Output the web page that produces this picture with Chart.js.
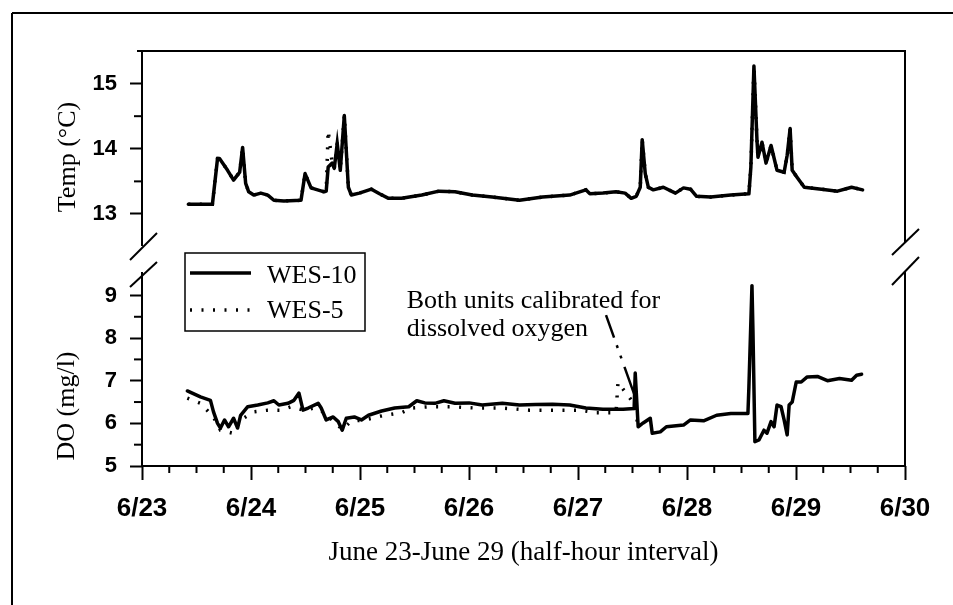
<!DOCTYPE html>
<html><head><meta charset="utf-8">
<script src="https://cdn.jsdelivr.net/npm/chart.js@4/dist/chart.umd.min.js"></script>
<style>
html,body{margin:0;padding:0;background:#fff;}
#wrap{position:relative;width:953px;height:605px;overflow:hidden;background:#fff;}
canvas{position:absolute;left:0;top:0;}
</style></head><body>
<div id="wrap"><canvas id="cTop" width="953" height="605"></canvas><canvas id="cBot" width="953" height="605"></canvas></div>
<script>
// ---------- data (x = day of June, fractional) ----------
const dayTicks = [23, 24, 25, 26, 27, 28, 29, 30];
const dayTickLabels = ['6/23', '6/24', '6/25', '6/26', '6/27', '6/28', '6/29', '6/30'];
const dayMinorTicks = [23.25,23.5,23.75,24.25,24.5,24.75,25.25,25.5,25.75,26.25,26.5,26.75,27.25,27.5,27.75,28.25,28.5,28.75,29.25,29.5,29.75];
const tempTicks = [13, 14, 15];
const tempMinorTicks = [13.5, 14.5];
const doTicks = [5, 6, 7, 8, 9];
const doMinorTicks = [5.5, 6.5, 7.5, 8.5];
const seriesNames = ['WES-10', 'WES-5'];
const xTitle = 'June 23-June 29 (half-hour interval)';
const tempTitle = 'Temp (\u00B0C)';
const doTitle = 'DO (mg/l)';
const noteLines = ['Both units calibrated for', 'dissolved oxygen'];

const temp10Day = [23.425,23.646,23.693,23.711,23.785,23.840,23.877,23.896,23.923,23.951,23.979,24.025,24.090,24.154,24.210,24.302,24.459,24.496,24.551,24.671,24.690,24.708,24.745,24.764,24.791,24.819,24.856,24.893,24.921,24.994,25.105,25.179,25.262,25.382,25.567,25.724,25.872,26.029,26.213,26.463,26.675,26.924,27.072,27.109,27.229,27.349,27.432,27.488,27.534,27.571,27.589,27.617,27.645,27.691,27.783,27.894,27.968,28.032,28.088,28.217,28.402,28.568,28.586,28.614,28.642,28.651,28.688,28.725,28.771,28.826,28.891,28.919,28.946,28.965,29.011,29.076,29.233,29.381,29.510,29.611];
const temp10 = [13.15,13.15,13.85,13.85,13.67,13.52,13.60,13.64,14.02,13.47,13.34,13.29,13.32,13.29,13.21,13.20,13.21,13.62,13.40,13.34,13.35,13.72,13.78,13.70,14.08,13.67,14.51,13.41,13.29,13.32,13.38,13.31,13.24,13.24,13.29,13.35,13.34,13.29,13.26,13.21,13.26,13.29,13.37,13.31,13.32,13.34,13.32,13.24,13.27,13.41,14.14,13.62,13.41,13.37,13.41,13.32,13.40,13.38,13.27,13.26,13.29,13.31,13.72,15.27,14.13,13.87,14.10,13.78,14.05,13.67,13.64,13.90,14.31,13.67,13.56,13.41,13.38,13.35,13.41,13.37];
const temp5Day = [23.425,23.646,23.693,23.711,23.785,23.840,23.877,23.896,23.923,23.951,23.979,24.025,24.090,24.154,24.210,24.302,24.459,24.496,24.551,24.671,24.690,24.708,24.745,24.764,24.791,24.819,24.856,24.893,24.921,24.994,25.105,25.179,25.262,25.382,25.567,25.724,25.872,26.029,26.213,26.463,26.675,26.924,27.072,27.109,27.229,27.349,27.432,27.488,27.534,27.571,27.589,27.617,27.645,27.691,27.783,27.894,27.968,28.032,28.088,28.217,28.402,28.568,28.586,28.614,28.642,28.651,28.688,28.725,28.771,28.826,28.891,28.919,28.946,28.965,29.011,29.076,29.233,29.381,29.510,29.611];
const temp5 = [13.15,13.15,13.85,13.85,13.67,13.52,13.60,13.64,14.02,13.47,13.34,13.29,13.32,13.29,13.21,13.20,13.21,13.62,13.40,13.34,13.35,14.28,13.78,13.70,14.08,13.67,14.51,13.41,13.29,13.32,13.38,13.31,13.24,13.24,13.29,13.35,13.34,13.29,13.26,13.21,13.26,13.29,13.37,13.31,13.32,13.34,13.32,13.24,13.27,13.41,14.14,13.62,13.41,13.37,13.41,13.32,13.40,13.38,13.27,13.26,13.29,13.31,13.72,15.27,14.13,13.87,14.10,13.78,14.05,13.67,13.64,13.90,14.31,13.67,13.56,13.41,13.38,13.35,13.41,13.37];

const do10Day = [23.416,23.536,23.628,23.656,23.693,23.720,23.757,23.794,23.840,23.877,23.905,23.970,24.062,24.154,24.210,24.256,24.339,24.394,24.440,24.477,24.524,24.616,24.644,24.690,24.754,24.801,24.837,24.874,24.948,25.013,25.078,25.198,25.318,25.447,25.521,25.595,25.687,25.770,25.872,26.001,26.121,26.306,26.463,26.610,26.767,26.924,27.072,27.229,27.414,27.515,27.525,27.552,27.598,27.663,27.681,27.755,27.811,27.968,28.032,28.152,28.272,28.402,28.559,28.568,28.596,28.605,28.623,28.660,28.706,28.734,28.771,28.799,28.826,28.863,28.891,28.919,28.937,28.965,29.002,29.048,29.103,29.196,29.288,29.399,29.510,29.556,29.602];
const do10 = [6.76,6.62,6.54,6.27,6.00,5.89,6.08,5.92,6.12,5.89,6.19,6.39,6.43,6.48,6.53,6.43,6.47,6.54,6.71,6.31,6.36,6.47,6.36,6.08,6.15,6.04,5.84,6.12,6.15,6.08,6.19,6.29,6.36,6.39,6.53,6.48,6.47,6.53,6.47,6.48,6.43,6.47,6.43,6.44,6.45,6.43,6.36,6.33,6.33,6.35,7.18,5.92,6.01,6.12,5.77,5.80,5.92,5.96,6.08,6.06,6.19,6.23,6.23,6.86,9.23,8.18,5.57,5.61,5.84,5.77,6.04,5.92,6.43,6.39,6.08,5.73,6.43,6.50,6.97,6.97,7.09,7.10,7.00,7.05,7.01,7.13,7.15];
const do5Day = [23.416,23.536,23.656,23.720,23.831,23.905,24.025,24.154,24.274,24.367,24.487,24.579,24.644,24.736,24.837,24.920,25.041,25.225,25.382,25.475,25.632,25.844,26.056,26.306,26.555,26.795,27.017,27.164,27.349,27.367,27.441,27.488,27.525,27.552];
const do5 = [6.59,6.47,6.15,5.84,5.77,6.08,6.27,6.31,6.31,6.39,6.31,6.36,6.30,6.10,5.86,6.05,6.08,6.19,6.25,6.36,6.39,6.39,6.36,6.36,6.31,6.31,6.31,6.25,6.25,6.96,6.71,6.55,6.35,5.92];

// annotation anchor (data units of the DO panel)
const noteAt = {x: 25.428, y1: 8.70, y2: 8.05, fromX: 27.257, fromY: 8.54, toX: 27.534, toY: 6.55};

// ---------- helpers ----------
const SERIF = '"Liberation Serif", "Times New Roman", Times, serif';
const SANS = '"Liberation Sans", Arial, Helvetica, sans-serif';
const pts = (xs, ys) => xs.map((x, i) => ({x: x, y: ys[i]}));
function seg(ctx, x1, y1, x2, y2) { ctx.beginPath(); ctx.moveTo(x1, y1); ctx.lineTo(x2, y2); ctx.stroke(); }
const solidStyle = {borderColor: '#000', borderWidth: 3.5, pointRadius: 0, tension: 0, borderJoinStyle: 'round', borderCapStyle: 'round', fill: false};
const dotStyle = {borderColor: '#000', borderWidth: 3.5, pointRadius: 0, tension: 0, borderDash: [2, 9.5], borderCapStyle: 'butt', fill: false};

function yAxis(min, max, ticks) {
  return {
    type: 'linear', min: min, max: max,
    afterFit(s) { s.width = 142; },
    afterBuildTicks(s) { s.ticks = ticks.map(v => ({value: v})); },
    ticks: {color: '#000', font: {family: SANS, weight: 'bold', size: 22}, padding: 13},
    grid: {drawOnChartArea: false, drawTicks: true, tickLength: 12, tickColor: '#000', tickWidth: 2},
    border: {display: false}
  };
}

// ---------- top panel decorations ----------
const topDecor = {
  id: 'topDecor',
  afterDraw(chart) {
    const {ctx, chartArea: a, scales: {y}} = chart;
    ctx.save();
    ctx.strokeStyle = '#000'; ctx.lineWidth = 2;
    // outer frame
    seg(ctx, 12, 13, 953, 13); seg(ctx, 12, 13, 12, 605);
    // panel box (open at bottom)
    seg(ctx, a.left - 5, a.top, a.right + 1, a.top);
    seg(ctx, a.left, a.top, a.left, a.bottom + 4);
    seg(ctx, a.right, a.top, a.right, a.bottom);
    // minor ticks
    tempMinorTicks.forEach(v => { const p = y.getPixelForValue(v); seg(ctx, a.left - 8, p, a.left, p); });
    // axis-break marks
    seg(ctx, a.left - 12, a.bottom + 18, a.left + 15, a.bottom - 9);
    seg(ctx, a.left - 12, a.bottom + 45, a.left + 15, a.bottom + 20);
    seg(ctx, a.right - 13, a.bottom + 13, a.right + 14, a.bottom - 13);
    seg(ctx, a.right - 13, a.bottom + 43, a.right + 14, a.bottom + 15);
    // y title
    ctx.fillStyle = '#000'; ctx.font = '26px ' + SERIF; ctx.textAlign = 'center'; ctx.textBaseline = 'middle';
    ctx.translate(68, 157); ctx.rotate(-Math.PI / 2); ctx.fillText(tempTitle, 0, 0);
    ctx.restore();
  }
};

// ---------- bottom panel decorations ----------
const botDecor = {
  id: 'botDecor',
  afterDraw(chart) {
    const {ctx, chartArea: a, scales: {x, y}} = chart;
    ctx.save();
    ctx.strokeStyle = '#000'; ctx.lineWidth = 2;
    seg(ctx, a.left, a.top, a.left, a.bottom + 1);
    seg(ctx, a.right, a.top, a.right, a.bottom + 1);
    seg(ctx, a.left - 1, a.bottom, a.right + 1, a.bottom);
    dayMinorTicks.forEach(v => { const p = x.getPixelForValue(v); seg(ctx, p, a.bottom, p, a.bottom + 7); });
    doMinorTicks.forEach(v => { const p = y.getPixelForValue(v); seg(ctx, a.left - 8, p, a.left, p); });
    // y title
    ctx.save();
    ctx.fillStyle = '#000'; ctx.font = '26px ' + SERIF; ctx.textAlign = 'center'; ctx.textBaseline = 'middle';
    ctx.translate(67, 406); ctx.rotate(-Math.PI / 2); ctx.fillText(doTitle, 0, 0);
    ctx.restore();
    // legend
    const ds = chart.data.datasets;
    ctx.lineWidth = 1.5;
    ctx.strokeRect(185, 253, 180, 78);
    ctx.lineWidth = 3.5; ctx.setLineDash([]);
    seg(ctx, 190, 273, 251, 273);
    ctx.setLineDash(ds[1].borderDash);
    seg(ctx, 190, 310, 251, 310);
    ctx.setLineDash([]);
    ctx.fillStyle = '#000'; ctx.font = '26px ' + SERIF; ctx.textAlign = 'left'; ctx.textBaseline = 'alphabetic';
    ctx.fillText(ds[0].label, 267, 283);
    ctx.fillText(ds[1].label, 267, 318);
    // calibration note
    const nx = x.getPixelForValue(noteAt.x);
    ctx.fillText(noteLines[0], nx, y.getPixelForValue(noteAt.y1));
    ctx.fillText(noteLines[1], nx, y.getPixelForValue(noteAt.y2));
    ctx.lineWidth = 2.5;
    ctx.setLineDash([24, 8, 3, 8, 3, 9, 60]);
    seg(ctx, x.getPixelForValue(noteAt.fromX), y.getPixelForValue(noteAt.fromY),
             x.getPixelForValue(noteAt.toX), y.getPixelForValue(noteAt.toY));
    ctx.restore();
  }
};

const common = {responsive: false, animation: false, devicePixelRatio: 1, parsing: true,
  plugins: {legend: {display: false}, tooltip: {enabled: false}, title: {display: false}}};

new Chart(document.getElementById('cTop'), {
  type: 'line',
  data: {datasets: [
    Object.assign({label: seriesNames[0], data: pts(temp10Day, temp10), order: 0}, solidStyle),
    Object.assign({label: seriesNames[1], data: pts(temp5Day, temp5), order: 1}, dotStyle)
  ]},
  options: Object.assign({}, common, {
    layout: {padding: {left: 0, right: 48, top: 51, bottom: 363}},
    scales: {
      x: {type: 'linear', min: 23, max: 30, display: false},
      y: yAxis(12.57, 15.5, tempTicks)
    }
  }),
  plugins: [topDecor]
});

new Chart(document.getElementById('cBot'), {
  type: 'line',
  data: {datasets: [
    Object.assign({label: seriesNames[0], data: pts(do10Day, do10), order: 0}, solidStyle),
    Object.assign({label: seriesNames[1], data: pts(do5Day, do5), order: 1}, dotStyle)
  ]},
  options: Object.assign({}, common, {
    layout: {padding: {left: 0, right: 48, top: 272, bottom: 0}},
    scales: {
      x: {
        type: 'linear', min: 23, max: 30,
        afterFit(s) { s.height = 139; },
        afterBuildTicks(s) { s.ticks = dayTicks.map(v => ({value: v})); },
        ticks: {color: '#000', font: {family: SANS, weight: 'bold', size: 26}, padding: 13, maxRotation: 0, autoSkip: false,
                callback: (v, i) => dayTickLabels[i]},
        grid: {drawOnChartArea: false, drawTicks: true, tickLength: 14, tickColor: '#000', tickWidth: 2},
        border: {display: false},
        title: {display: true, text: xTitle, color: '#000', font: {family: SERIF, size: 27, weight: 'normal'}, padding: {top: 0, bottom: 36}}
      },
      y: yAxis(5, 9.55, doTicks)
    }
  }),
  plugins: [botDecor]
});
</script>
</body></html>
